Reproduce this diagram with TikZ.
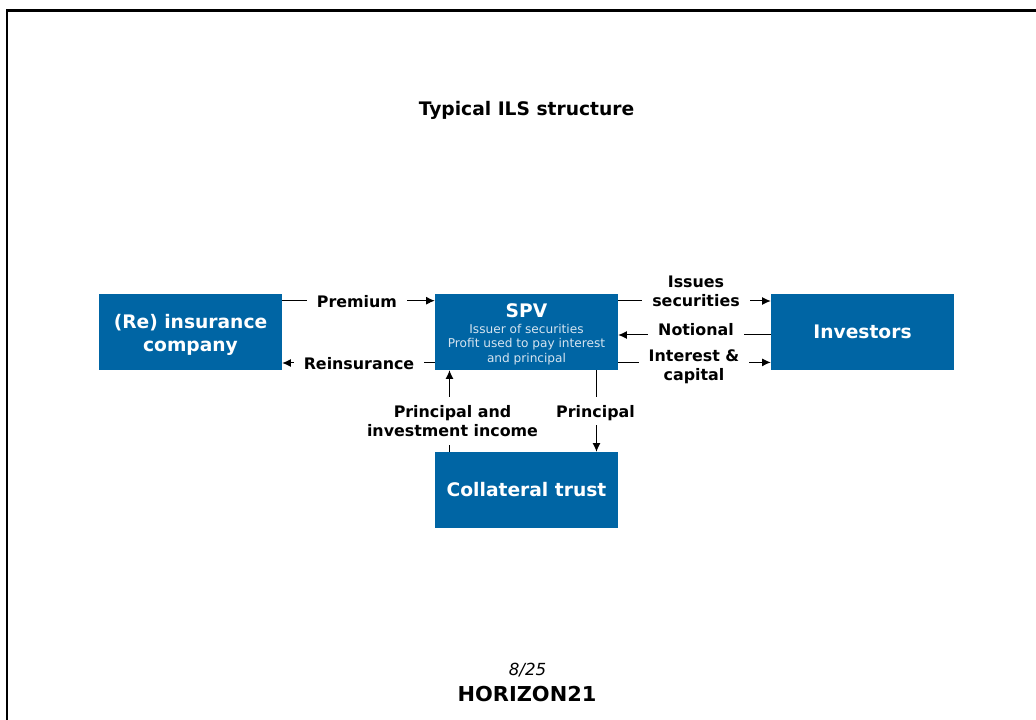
\documentclass[tikz,border=0pt]{standalone}
\usepackage{fontspec}
\usetikzlibrary{arrows.meta}
\setmainfont{DejaVu Sans}
\definecolor{boxblue}{HTML}{0065A4}
\definecolor{subtxt}{HTML}{D5E4F0}
\tikzset{x=0.75pt,y=-0.75pt,
 bluebox/.style={fill=boxblue,text=white,inner sep=0pt,minimum width=137.25pt,minimum height=57pt,align=center,font=\bfseries\fontsize{14}{17}\selectfont},
 lbl/.style={fill=white,inner xsep=7.5pt,inner ysep=1pt,align=center,font=\bfseries\fontsize{11.9}{14}\selectfont,text=black},
 conn/.style={draw=black,line width=0.75pt},
 arr/.style={conn,-{Latex[length=6.5pt,width=6pt]}}}
\begin{document}
\begin{tikzpicture}
\useasboundingbox (0,0) rectangle (1036,720);
\draw[line width=2pt] (7,720) -- (7,10.5) -- (1036,10.5);
\node[inner sep=0pt,font=\bfseries\fontsize{14}{16}\selectfont] (title) at (526.5,110) {Typical ILS structure};
\node[bluebox] (re) at (190.5,332) {\rule{0pt}{14.9pt}(Re) insurance\\company};
\node[bluebox,font=\fontsize{9.1}{10.9}\selectfont,text=subtxt] (spv) at (526.5,332) {\textcolor{white}{\bfseries\fontsize{14}{14}\selectfont\rule{0pt}{13.8pt}SPV}\\[1pt]Issuer of securities\\Profit used to pay interest\\and principal};
\node[bluebox] (inv) at (862.5,332) {Investors};
\node[bluebox] (col) at (526.5,490) {Collateral trust};
% connectors
\draw[arr] (re.east |- 0,300.7) -- (spv.west |- 0,300.7);
\draw[arr] (spv.west |- 0,363) -- (re.east |- 0,363);
\draw[arr] (spv.east |- 0,301) -- (inv.west |- 0,301);
\draw[arr] (inv.west |- 0,335) -- (spv.east |- 0,335);
\draw[arr] (spv.east |- 0,362.4) -- (inv.west |- 0,362.4);
\draw[arr] (col.north -| 449.5,0) -- (spv.south -| 449.5,0);
\draw[arr] (spv.south -| 596.5,0) -- (col.north -| 596.5,0);
% labels over the connectors
\node[lbl] (prem) at (357,301.5) {Premium};
\node[lbl] (reins) at (359,363.5) {Reinsurance};
\node[lbl] (iss) at (696,291) {Issues\\securities};
\node[lbl] (not) at (696,329.5) {Notional};
\node[lbl] (int) at (694,367) {Interest \&\\capital};
\node[lbl,minimum height=36pt] (pii) at (452.5,421) {Principal and\\investment income};
\node[lbl,minimum height=21pt] (pri) at (595.5,411) {\rule{0pt}{12.5pt}Principal};
\node[inner sep=0pt,font=\itshape\fontsize{12.5}{14}\selectfont] (page) at (527.5,670) {8/25};
\node[inner sep=0pt,font=\bfseries\fontsize{15.4}{17}\selectfont] (logo) at (527,694.5) {\scalebox{1.02}[1]{HORIZON21}};
\end{tikzpicture}
\end{document}
